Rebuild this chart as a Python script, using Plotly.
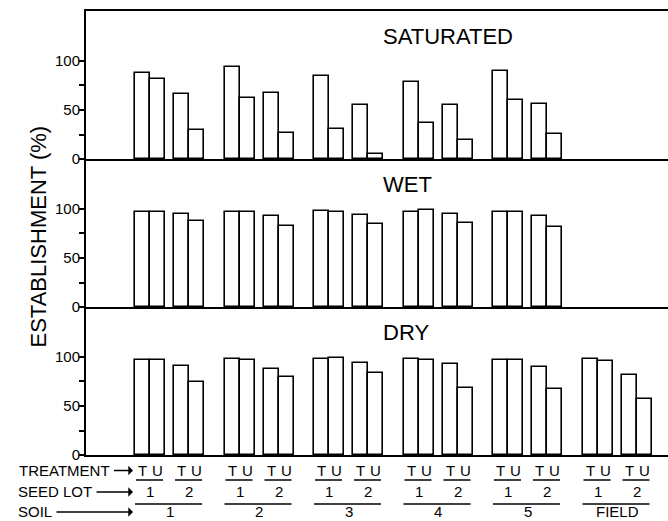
import plotly.graph_objects as go
from plotly.subplots import make_subplots

# ---------------- data ----------------
soils = ["1", "2", "3", "4", "5", "FIELD"]
seed_lots = ["1", "2"]
treatments = ["T", "U"]
conditions = ["SATURATED", "WET", "DRY"]
# values per soil: [lot1-T, lot1-U, lot2-T, lot2-U]
saturated = [[88, 82, 66, 30], [94, 62, 67, 27], [85, 31, 55, 5], [79, 37, 55, 19], [90, 60, 56, 26]]
wet = [[97, 97, 95, 88], [97, 97, 93, 83], [98, 97, 94, 85], [97, 99, 95, 86], [97, 97, 93, 82]]
dry = [[97, 97, 91, 74], [98, 97, 88, 80], [98, 99, 94, 84], [98, 97, 93, 68], [97, 97, 90, 67], [98, 96, 82, 57]]
y_ticks = [0, 50, 100]
y_minor = [25, 75]

# ---------------- layout constants ----------------
W, H = 668, 521
ML, MR, MT, MB = 86, 0, 11, 66
PW = W - ML - MR
PH = H - MT - MB
BAR_W = 15
LOT_GAP = 9
GROUP_PITCH = 89.5
FIRST = 49
YMAX = 151
FONT = "Liberation Sans, Arial, sans-serif"
LW = 2


def bar_left(g, l, t):
    return FIRST + g * GROUP_PITCH + l * (2 * BAR_W + LOT_GAP) + t * BAR_W


def py(p):  # pixel y -> paper y
    return (H - MB - p) / PH


fig = make_subplots(rows=3, cols=1, shared_xaxes=True, vertical_spacing=0)

for r, vals in enumerate([saturated, wet, dry]):
    xs, ys = [], []
    for g, group in enumerate(vals):
        for i, v in enumerate(group):
            l, t = divmod(i, 2)
            xs.append(bar_left(g, l, t) + BAR_W / 2)
            ys.append(v)
    fig.add_trace(go.Bar(x=xs, y=ys, width=BAR_W,
                         marker=dict(color="white", line=dict(color="black", width=1.6)),
                         showlegend=False, hoverinfo="y"), row=r + 1, col=1)

for r in range(3):
    fig.update_xaxes(range=[0, PW], showline=True, linecolor="black", linewidth=LW,
                     mirror=(r == 0), showticklabels=False, ticks="", showgrid=False,
                     zeroline=False, row=r + 1, col=1)
    fig.update_yaxes(range=[0, YMAX], tickvals=y_ticks, ticktext=[str(v) for v in y_ticks],
                     ticks="outside", ticklen=5, tickwidth=1.5, tickcolor="black",
                     ticklabelstandoff=-4,
                     minor=dict(tickvals=y_minor, ticks="outside", ticklen=5, tickwidth=1.5,
                                tickcolor="black", showgrid=False),
                     showline=True, linecolor="black", linewidth=LW, showgrid=False,
                     zeroline=False, tickfont=dict(family=FONT, size=15, color="black"),
                     row=r + 1, col=1)

ann = []
yrefs = ["y", "y2", "y3"]
for r, name in enumerate(conditions):
    ann.append(dict(text=name, xref="x", yref=yrefs[r], x=295, y=125, xanchor="left",
                    yanchor="middle", showarrow=False,
                    font=dict(family=FONT, size=22, color="black")))

ann.append(dict(text="ESTABLISHMENT (%)", xref="paper", yref="paper", x=(38 - ML) / PW,
                y=py(236.5), textangle=-90, showarrow=False, xanchor="center", yanchor="middle",
                font=dict(family=FONT, size=22, color="black")))

small = dict(family=FONT, size=15, color="black")
shapes = []
for g, soil in enumerate(soils):
    for l, lot in enumerate(seed_lots):
        for t, tr in enumerate(treatments):
            ann.append(dict(text=tr, xref="x", yref="paper", x=bar_left(g, l, t) + BAR_W / 2,
                            y=py(470.5), showarrow=False, xanchor="center", yanchor="middle",
                            font=small))
        x0 = bar_left(g, l, 0)
        x1 = bar_left(g, l, 1) + BAR_W
        shapes.append(dict(type="line", xref="x", yref="paper", x0=x0 + 1, x1=x1 - 2,
                           y0=py(480), y1=py(480), line=dict(color="black", width=1.5)))
        ann.append(dict(text=lot, xref="x", yref="paper", x=(x0 + x1) / 2, y=py(492),
                        showarrow=False, xanchor="center", yanchor="middle", font=small))
    gx0 = bar_left(g, 0, 0)
    gx1 = bar_left(g, 1, 1) + BAR_W
    shapes.append(dict(type="line", xref="x", yref="paper", x0=gx0, x1=gx1 - 2,
                       y0=py(504), y1=py(504), line=dict(color="black", width=1.5)))
    ann.append(dict(text=soil, xref="x", yref="paper", x=(gx0 + gx1) / 2, y=py(512),
                    showarrow=False, xanchor="center", yanchor="middle", font=small))

row_labels = [("TREATMENT", 470.5, 64), ("SEED LOT", 492, 55), ("SOIL", 512, 35)]
for txt, yy, cx in row_labels:
    tip = 133
    ann.append(dict(text=txt, xref="x", yref="paper", x=tip - ML, y=py(yy),
                    ax=cx - tip, ay=0, showarrow=True, arrowhead=1, arrowsize=1.2,
                    arrowwidth=1.3, arrowcolor="black", standoff=0, startstandoff=3,
                    font=small))

fig.update_layout(width=W, height=H, margin=dict(l=ML, r=MR, t=MT, b=MB),
                  paper_bgcolor="white", plot_bgcolor="white", bargap=0,
                  annotations=ann, shapes=shapes, font=dict(family=FONT, color="black"))

fig.write_html("out.html")
